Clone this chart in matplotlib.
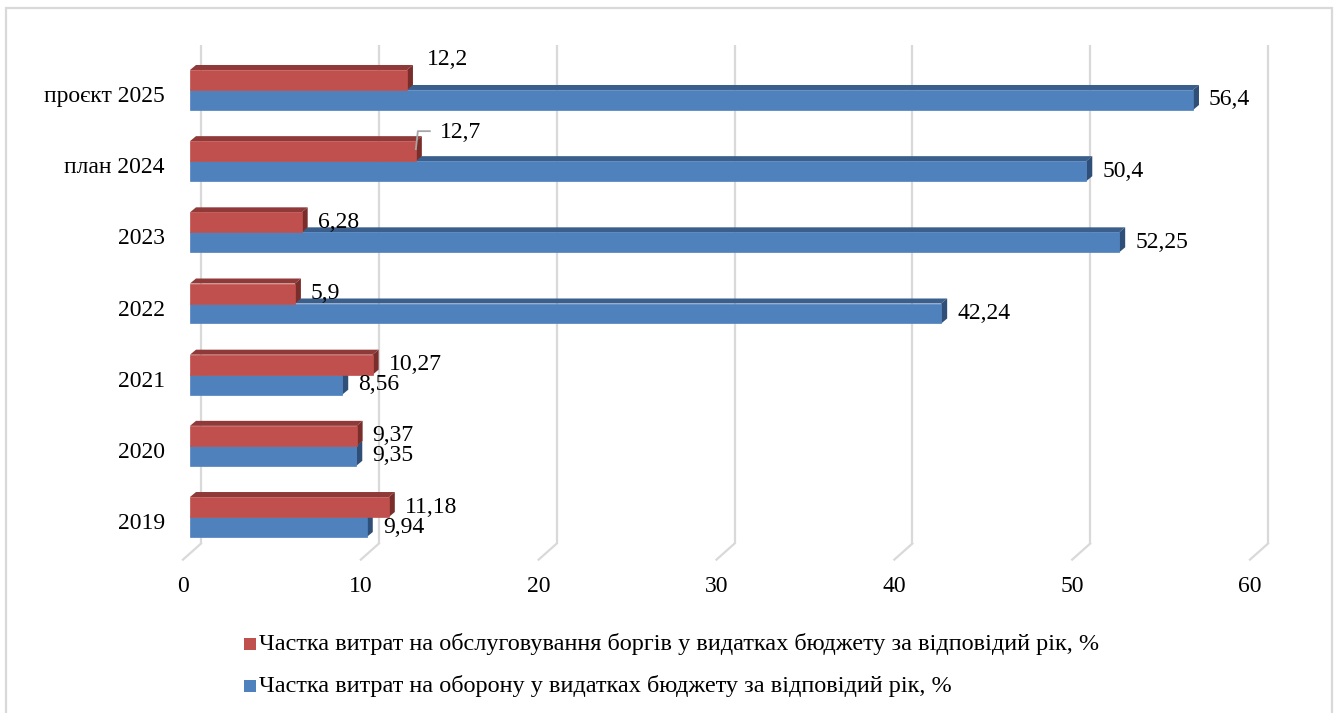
import matplotlib
matplotlib.use("Agg")
import matplotlib.pyplot as plt
from matplotlib.patches import Polygon, Rectangle
from matplotlib.transforms import Affine2D, IdentityTransform
from matplotlib.lines import Line2D

plt.rcParams['font.family'] = ['Liberation Serif', 'DejaVu Serif']

categories = ['2019', '2020', '2021', '2022', '2023', 'план 2024', 'проєкт 2025']
debt_share = [11.18, 9.37, 10.27, 5.9, 6.28, 12.7, 12.2]
defence_share = [9.94, 9.35, 8.56, 42.24, 52.25, 50.4, 56.4]
debt_labels = ['11,18', '9,37', '10,27', '5,9', '6,28', '12,7', '12,2']
defence_labels = ['9,94', '9,35', '8,56', '42,24', '52,25', '50,4', '56,4']
legend_names = ['Частка витрат на обслуговування боргів у видатках бюджету за відповідий рік, %',
                'Частка витрат на оборону у видатках бюджету за відповідий рік, %']

W, H = 1335, 713
FS = 17
GRID = '#D9D9D9'
RED = ('#C0504D', '#8F3A38', '#7A2E2C')
BLUE = ('#4F81BD', '#3B5F8C', '#2F4F78')

BAR_OFF = (7, 7)      # bars sit a bit inside the depth of the floor
BACK_OFF = (18, 16)   # back wall offset, pixels
FACE_OFF = (6, 5)     # depth of each bar, pixels
BAR_H = 0.281

fig = plt.figure(figsize=(W / 100, H / 100), dpi=100)
fig.patch.set_facecolor('white')
ax = fig.add_axes([183 / W, (713 - 559.6) / H, 1067 / W, 498.2 / H])
ax.set_xlim(0, 60)
ax.set_ylim(-0.5, 6.5)
ax.patch.set_visible(False)
for s in ax.spines.values():
    s.set_visible(False)

ax.set_xticks(range(0, 61, 10))
ax.set_yticks(range(len(categories)), categories)
ax.tick_params(axis='both', length=0, labelsize=FS)
ax.tick_params(axis='y', pad=13)
ax.tick_params(axis='x', pad=12)
for lbl in ax.get_yticklabels():
    lbl.set_transform(lbl.get_transform() + Affine2D().translate(0, 3))

fig.canvas.draw()
px = ax.transData.transform


def shift(p, d):
    return (p[0] + d[0], p[1] + d[1])


# back wall gridlines and their floor continuation
back_tr = ax.transData + Affine2D().translate(*BACK_OFF)
for k in range(0, 61, 10):
    ax.plot([k, k], [-0.5, 6.5], color=GRID, lw=1.6, transform=back_tr, zorder=1,
            solid_capstyle='butt', clip_on=False)
    f = px((k, -0.5))
    ax.add_line(Line2D([f[0], f[0] + BACK_OFF[0]], [f[1], f[1] + BACK_OFF[1]],
                       color=GRID, lw=1.6, transform=IdentityTransform(), zorder=1,
                       clip_on=False))


def bars3d(ypos, values, colors, z):
    front, top, side = colors
    bar_tr = ax.transData + Affine2D().translate(*BAR_OFF)
    ax.barh(ypos, values, height=BAR_H, left=0, align='edge', color=front,
            edgecolor=front, lw=0.5, transform=bar_tr, zorder=z + 0.5, clip_on=False)
    for y, v in zip(ypos, values):
        p0 = shift(px((0, y)), BAR_OFF)
        p1 = shift(px((v, y)), BAR_OFF)
        p2 = shift(px((v, y + BAR_H)), BAR_OFF)
        p3 = shift(px((0, y + BAR_H)), BAR_OFF)
        ax.add_patch(Polygon([p3, p2, shift(p2, FACE_OFF), shift(p3, FACE_OFF)],
                             closed=True, fc=top, ec='none', transform=IdentityTransform(),
                             zorder=z, clip_on=False))
        ax.add_patch(Polygon([p1, p2, shift(p2, FACE_OFF), shift(p1, FACE_OFF)],
                             closed=True, fc=side, ec='none', transform=IdentityTransform(),
                             zorder=z, clip_on=False))


idx = range(len(categories))
bars3d([i - BAR_H for i in idx], defence_share, BLUE, 3)
bars3d([i for i in idx], debt_share, RED, 5)

# value labels
for i, (v, t) in enumerate(zip(defence_share, defence_labels)):
    ax.annotate(t, xy=(v, i - BAR_H / 2), xytext=(BAR_OFF[0] + 16, BAR_OFF[1]),
                textcoords='offset pixels', ha='left', va='center', fontsize=FS, zorder=8)

label_shift = {5: (24, 19), 6: (20, 20)}
for i, (v, t) in enumerate(zip(debt_share, debt_labels)):
    dx, dy = label_shift.get(i, (16, 0))
    ax.annotate(t, xy=(v, i + BAR_H / 2), xytext=(BAR_OFF[0] + dx, BAR_OFF[1] + dy),
                textcoords='offset pixels', ha='left', va='center', fontsize=FS, zorder=8)

# leader line for the moved label of plan 2024
e = shift(px((debt_share[5], 5 + BAR_H / 2)), BAR_OFF)
ax.add_line(Line2D([e[0], e[0] + 2, e[0] + 14], [e[1] + 2, e[1] + 20, e[1] + 20],
                   color='#A6A6A6', lw=1.3, transform=IdentityTransform(), zorder=9,
                   clip_on=False))

# legend
for j, (name, col) in enumerate(zip(legend_names, [RED[0], BLUE[0]])):
    yc = 644 + 42 * j
    fig.add_artist(Rectangle((244 / W, (H - yc - 6) / H), 12 / W, 12 / H,
                             transform=fig.transFigure, fc=col, ec='none'))
    fig.text(259 / W, (H - yc) / H, name, ha='left', va='center', fontsize=17.5)

# chart area border
fig.add_artist(Rectangle((6 / W, -0.1), (1332 - 6) / W, (H - 8) / H + 0.1,
                         transform=fig.transFigure, fill=False, ec=GRID, lw=1.6))

fig.savefig('out.png', dpi=100)
